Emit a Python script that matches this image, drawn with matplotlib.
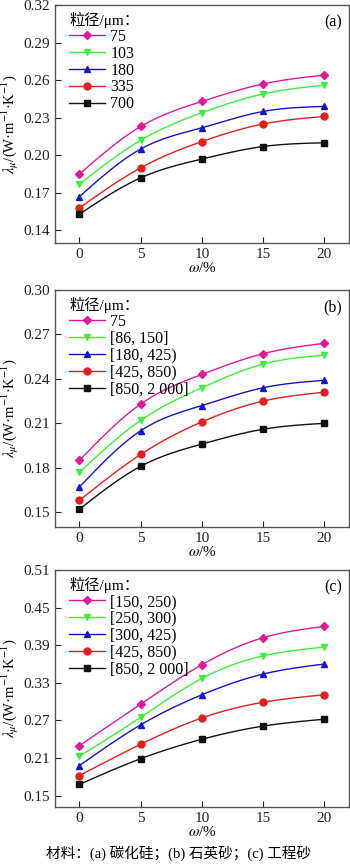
import matplotlib.pyplot as plt
import numpy as np

plt.rcParams['font.family'] = ['Liberation Serif', 'Noto Sans CJK SC']
plt.rcParams['mathtext.fontset'] = 'stix'
plt.rcParams['font.size'] = 10

omega = [0, 5, 10, 15, 20]

# (a) silicon carbide
labels_a = ["75", "103", "180", "335", "700"]
vals_a = [
    [0.185, 0.223, 0.243, 0.257, 0.264],
    [0.177, 0.212, 0.234, 0.249, 0.256],
    [0.167, 0.205, 0.222, 0.235, 0.239],
    [0.158, 0.190, 0.211, 0.225, 0.231],
    [0.153, 0.182, 0.197, 0.207, 0.210],
]
# (b) quartz sand
labels_b = ["75", "[86, 150]", "[180, 425)", "[425, 850)", "[850, 2 000]"]
vals_b = [
    [0.185, 0.223, 0.243, 0.257, 0.264],
    [0.177, 0.212, 0.234, 0.250, 0.256],
    [0.167, 0.205, 0.222, 0.234, 0.239],
    [0.158, 0.189, 0.211, 0.225, 0.231],
    [0.152, 0.181, 0.196, 0.206, 0.210],
]
# (c) engineering sand
labels_c = ["[150, 250)", "[250, 300)", "[300, 425)", "[425, 850)", "[850, 2 000]"]
vals_c = [
    [0.230, 0.296, 0.359, 0.402, 0.420],
    [0.213, 0.275, 0.337, 0.373, 0.387],
    [0.198, 0.263, 0.311, 0.344, 0.360],
    [0.182, 0.232, 0.274, 0.299, 0.311],
    [0.168, 0.209, 0.240, 0.261, 0.272],
]

colors = ["#E0189A", "#3CF03C", "#1414C8", "#E02020", "#111111"]
markers = ["D", "v", "^", "o", "s"]


def smooth(x, y, n=100):
    # natural cubic spline through the points, for drawing only
    x = np.asarray(x, float)
    y = np.asarray(y, float)
    m = len(x)
    h = np.diff(x)
    A = np.zeros((m, m))
    b = np.zeros(m)
    A[0, 0] = A[-1, -1] = 1
    for i in range(1, m - 1):
        A[i, i - 1] = h[i - 1]
        A[i, i] = 2 * (h[i - 1] + h[i])
        A[i, i + 1] = h[i]
        b[i] = 6 * ((y[i + 1] - y[i]) / h[i] - (y[i] - y[i - 1]) / h[i - 1])
    M = np.linalg.solve(A, b)
    xs = np.linspace(x[0], x[-1], n)
    ys = np.empty_like(xs)
    for k, t in enumerate(xs):
        i = min(np.searchsorted(x, t, side="right") - 1, m - 2)
        a = x[i + 1] - t
        c = t - x[i]
        ys[k] = (M[i] * a ** 3 + M[i + 1] * c ** 3) / (6 * h[i]) \
            + (y[i] / h[i] - M[i] * h[i] / 6) * a \
            + (y[i + 1] / h[i] - M[i + 1] * h[i] / 6) * c
    return xs, ys


fig = plt.figure(figsize=(3.5, 8.64), dpi=100)

panels = [
    ("(a)", labels_a, vals_a, (0.13, 0.32), np.arange(0.14, 0.321, 0.03), [0.157, 0.7188, 0.840, 0.2754]),
    ("(b)", labels_b, vals_b, (0.14, 0.30), np.arange(0.15, 0.301, 0.03), [0.157, 0.3900, 0.840, 0.2744]),
    ("(c)", labels_c, vals_c, (0.132, 0.51), np.arange(0.15, 0.511, 0.06), [0.157, 0.0660, 0.840, 0.2743]),
]

for tag, labels, vals, ylim, yticks, rect in panels:
    ax = fig.add_axes(rect)
    for lab, v, c, mk in zip(labels, vals, colors, markers):
        ms = 4.5 if mk == "D" else 5
        xs, ys = smooth(omega, v)
        ax.plot(xs, ys, color=c, lw=1.0)
        ax.plot(omega, v, ls="none", marker=mk, color=c, ms=ms)
        ax.plot([], [], color=c, lw=1.0, marker=mk, ms=ms, label=lab)
    ax.set_xlim(-2, 22)
    ax.set_ylim(*ylim)
    ax.set_xticks(omega)
    ax.set_yticks(yticks)
    ax.set_yticklabels([f"{t:.2f}" for t in yticks])
    ax.tick_params(direction="in", length=4, width=0.8, labelsize=11, pad=3.5, colors="#222222")
    for s in ax.spines.values():
        s.set_color("#555555")
        s.set_linewidth(1.0)
    ax.set_xlabel(r"$\omega$/%", fontsize=11, labelpad=0)
    ax.set_ylabel(r"$\lambda_{\mu}$/(W·m$^{-1}$·K$^{-1}$)", fontsize=10.5, labelpad=2)
    ax.text(0.976, 0.925, tag, transform=ax.transAxes, ha="right", va="center", fontsize=11.5)
    ax.legend(loc="upper left", bbox_to_anchor=(0.025, 1.0), frameon=False,
              title="粒径/μm：", alignment="left", fontsize=11.5,
              title_fontproperties={"size": 11},
              handlelength=2.2, handletextpad=0.35, labelspacing=0.05,
              borderpad=0.25, borderaxespad=0.2)

fig.text(0.51, 0.013, "材料：(a) 碳化硅；(b) 石英砂；(c) 工程砂", ha="center", va="center", fontsize=10.5)

fig.savefig("out.png", dpi=100)
